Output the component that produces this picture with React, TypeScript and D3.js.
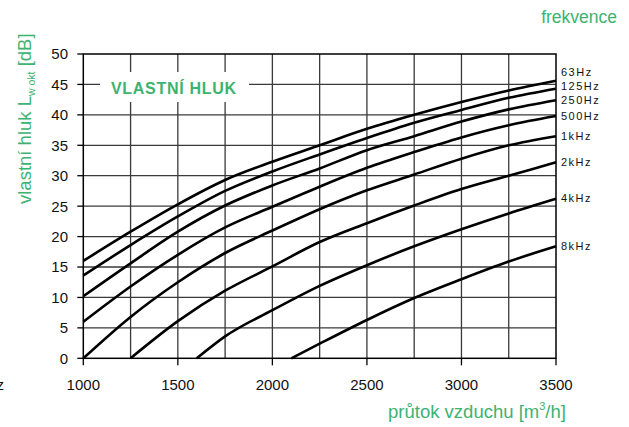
import React from "react";
import * as d3 from "d3";

const freqLabels = ["63Hz", "125Hz", "250Hz", "500Hz", "1kHz", "2kHz", "4kHz", "8kHz"];

const flowsFull = [1000, 1250, 1500, 1750, 2000, 2250, 2500, 2750, 3000, 3250, 3500];
const flows2k = [1250, 1500, 1750, 2000, 2250, 2500, 2750, 3000, 3250, 3500];
const flows4k = [1600, 1750, 2000, 2250, 2500, 2750, 3000, 3250, 3500];
const flows8k = [2100, 2250, 2500, 2750, 3000, 3250, 3500];

const hz63 = [16.0, 20.8, 25.3, 29.3, 32.3, 35.0, 37.7, 40.0, 42.1, 44.0, 45.6];
const hz125 = [13.6, 18.6, 23.3, 27.5, 30.7, 33.5, 36.2, 38.7, 40.8, 42.8, 44.3];
const hz250 = [10.2, 15.6, 20.8, 25.1, 28.4, 31.2, 34.2, 36.5, 38.9, 40.9, 42.4];
const hz500 = [6.0, 11.8, 17.0, 21.5, 24.9, 28.2, 31.3, 33.9, 36.3, 38.3, 39.8];
const khz1 = [0, 6.8, 12.5, 17.3, 21.0, 24.5, 27.6, 30.2, 32.8, 35.0, 36.5];
const khz2 = [0, 6.1, 11.1, 15.1, 19.1, 22.2, 25.1, 27.8, 30.0, 32.2];
const khz4 = [0, 3.6, 7.9, 11.9, 15.3, 18.4, 21.2, 23.8, 26.2];
const khz8 = [0, 2.4, 6.3, 9.9, 13.0, 15.9, 18.4];

const yTicks = [0, 5, 10, 15, 20, 25, 30, 35, 40, 45, 50];
const xTicks = [1000, 1500, 2000, 2500, 3000, 3500];
const xGrid = [1250, 1500, 1750, 2000, 2250, 2500, 2750, 3000, 3250];

const GREEN = "#3cb371";
const FONT = "'Liberation Sans', Arial, sans-serif";

export default function App() {
  const W = 629, H = 427;
  const x = d3.scaleLinear().domain([1000, 3500]).range([83.3, 556]);
  const y = d3.scaleLinear().domain([0, 50]).range([358.3, 54]);

  const seriesX = [flowsFull, flowsFull, flowsFull, flowsFull, flowsFull, flows2k, flows4k, flows8k];
  const seriesY = [hz63, hz125, hz250, hz500, khz1, khz2, khz4, khz8];

  const line = d3
    .line<[number, number]>()
    .x((d) => x(d[0]))
    .y((d) => y(d[1]))
    .curve(d3.curveMonotoneX);

  const ends = seriesY.map((s) => y(s[s.length - 1]) - 0.5);
  const labelY = ends.slice();
  for (let i = labelY.length - 2; i >= 0; i--) {
    labelY[i] = Math.min(labelY[i], labelY[i + 1] - 14);
  }

  return (
    <svg
      width={W}
      height={H}
      style={{ position: "absolute", left: 0, top: 0, background: "#fff" }}
      fontFamily={FONT}
    >
      {yTicks.slice(1, -1).map((t) => (
        <line key={"hy" + t} x1={x(1000)} x2={x(3500)} y1={y(t)} y2={y(t)} stroke="#3a3a3a" strokeWidth={1.3} />
      ))}
      {xGrid.map((t) => (
        <line key={"vx" + t} x1={x(t)} x2={x(t)} y1={y(0)} y2={y(50)} stroke="#3a3a3a" strokeWidth={1.3} />
      ))}
      <rect x={100} y={72} width={149} height={30} fill="#fff" />
      <text
        x={173.5}
        y={88}
        dy="0.35em"
        textAnchor="middle"
        fill={GREEN}
        fontWeight="bold"
        fontSize={16}
        textLength={125}
        lengthAdjust="spacing"
      >
        VLASTNÍ  HLUK
      </text>
      <rect x={x(1000)} y={y(50)} width={x(3500) - x(1000)} height={y(0) - y(50)} fill="none" stroke="#000" strokeWidth={1.5} />
      {yTicks.map((t) => (
        <g key={"yt" + t}>
          <line x1={x(1000) - 6} x2={x(1000)} y1={y(t)} y2={y(t)} stroke="#000" strokeWidth={1.3} />
          <text x={68} y={y(t)} dy="0.36em" textAnchor="end" fontSize={15} fill="#111">
            {t}
          </text>
        </g>
      ))}
      {xTicks.map((t) => (
        <g key={"xt" + t}>
          <line x1={x(t)} x2={x(t)} y1={y(0)} y2={y(0) + 7} stroke="#000" strokeWidth={1.3} />
          <text x={x(t)} y={385} dy="0.36em" textAnchor="middle" fontSize={15} fill="#111">
            {t}
          </text>
        </g>
      ))}
      {seriesY.map((s, i) => (
        <path
          key={"c" + i}
          d={line(s.map((v, j) => [seriesX[i][j], v] as [number, number])) || ""}
          fill="none"
          stroke="#000"
          strokeWidth={2.6}
        />
      ))}
      {freqLabels.map((l, i) => (
        <text key={"fl" + i} x={561} y={labelY[i]} dy="0.36em" fontSize={11} letterSpacing={1.5} fill="#111">
          {l}
        </text>
      ))}
      <text x={617} y={23} textAnchor="end" fontSize={17.5} fill={GREEN}>
        frekvence
      </text>
      <text x={477} y={418} textAnchor="middle" fontSize={18.5} fill={GREEN}>
        průtok vzduchu [m
        <tspan fontSize={11} dy={-8}>3</tspan>
        <tspan dy={8}>/h]</tspan>
      </text>
      <text transform="translate(31,204) rotate(-90)" textAnchor="start" fontSize={18.5} fill={GREEN}>
        vlastní hluk L
        <tspan fontSize={10.5} dy={4}>w okt</tspan>
        <tspan dy={-4}>{"  "}</tspan>
        <tspan>[dB]</tspan>
      </text>
      <text x={4} y={385} dy="0.36em" textAnchor="end" fontSize={15} fill="#111">
        Hz
      </text>
    </svg>
  );
}
